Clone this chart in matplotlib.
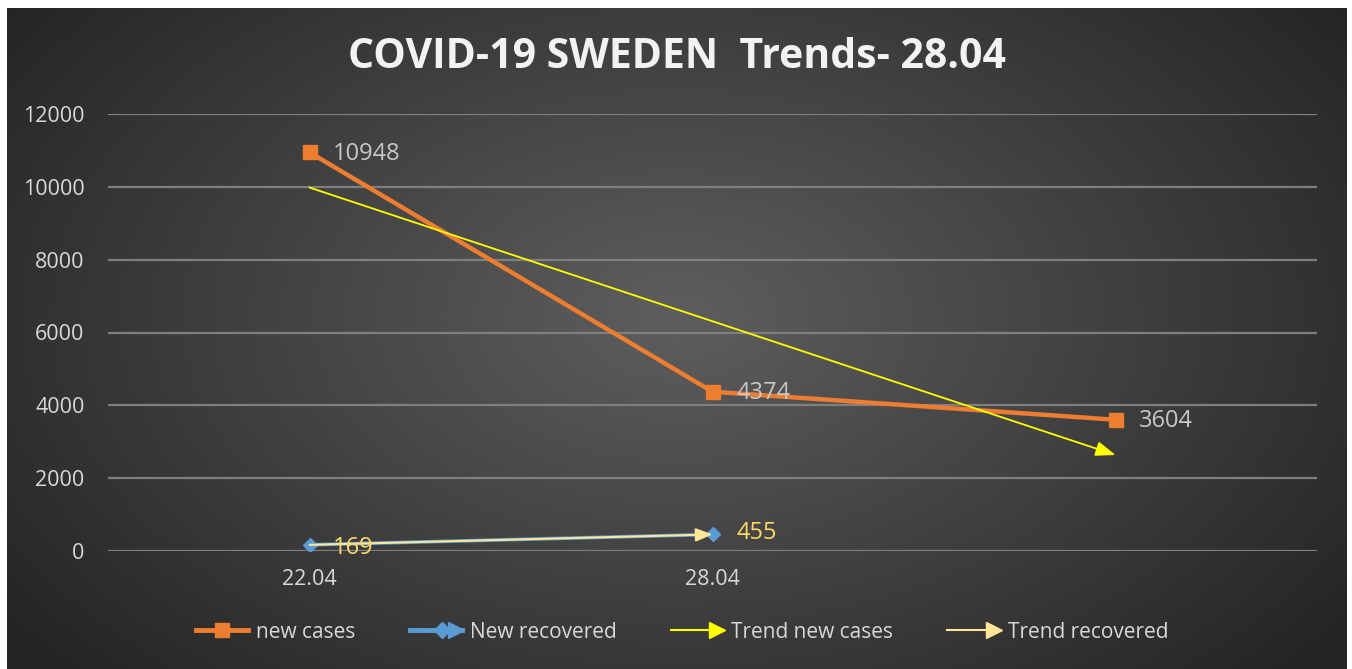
import numpy as np
import matplotlib
matplotlib.use("Agg")
import matplotlib.pyplot as plt
from matplotlib.lines import Line2D
from matplotlib.legend_handler import HandlerBase
from matplotlib.colors import to_rgb

plt.rcParams['font.family'] = ['Open Sans', 'DejaVu Sans']

# ---- data ----
categories = ["22.04", "28.04", ""]
new_cases = [10948, 4374, 3604]
new_recovered = [169, 455]
title = "COVID-19 SWEDEN  Trends- 28.04"
series_names = ["new cases", "New recovered", "Trend new cases", "Trend recovered"]
y_ticks = [0, 2000, 4000, 6000, 8000, 10000, 12000]

C_ORANGE = "#ED7D31"
C_BLUE = "#5B9BD5"
C_YEL = "#FFFF00"
C_LYEL = "#FFE699"
C_LBL_Y = "#FFD966"
C_TXT = "#D9D9D9"

W, H = 1352, 669
fig = plt.figure(figsize=(W / 100, H / 100), dpi=100, facecolor="white")

# background radial gradient
bx0, bx1, by0, by1 = 7, 1347, 8, 669
bg = fig.add_axes([bx0 / W, 1 - by1 / H, (bx1 - bx0) / W, (by1 - by0) / H], zorder=-10)
nx, ny = 400, 200
xx, yy = np.meshgrid(np.linspace(-1, 1, nx), np.linspace(-1, 1, ny))
r = np.sqrt((xx * 0.95) ** 2 + (yy * 0.75 + 0.05) ** 2)
r = np.clip(r / 1.2, 0, 1)
c0 = np.array(to_rgb("#5e5e5e"))
c1 = np.array(to_rgb("#242424"))
img = c0[None, None, :] * (1 - r[..., None]) + c1[None, None, :] * r[..., None]
bg.imshow(img, aspect="auto", extent=[0, 1, 0, 1], interpolation="bilinear")
bg.set_axis_off()

# main axes
ax_l, ax_r = 108, 1317
ax_t, ax_b = 114, 551
ax = fig.add_axes([ax_l / W, 1 - ax_b / H, (ax_r - ax_l) / W, (ax_b - ax_t) / H])
ax.patch.set_alpha(0)
for s in ax.spines.values():
    s.set_visible(False)

x = np.arange(len(categories))
ax.set_xlim(-0.5, len(categories) - 0.5)
ax.set_ylim(0, 12000)
ax.set_yticks(y_ticks)
ax.set_yticklabels([str(v) for v in y_ticks])
ax.set_xticks(x)
ax.set_xticklabels(categories)
ax.tick_params(axis="both", length=0, colors=C_TXT, labelsize=15.5)
ax.tick_params(axis="y", pad=17)
ax.tick_params(axis="x", pad=13)
ax.grid(axis="y", color="#7f7f7f", lw=1.6)
ax.set_axisbelow(True)

# series
ax.plot(x, new_cases, color=C_ORANGE, lw=3.2, marker="s", ms=10, zorder=3)
xr = np.arange(len(new_recovered))
ax.plot(xr, new_recovered, color=C_BLUE, lw=2.6, marker="D", ms=7, zorder=3)

# trend lines (linear fits)
p1 = np.polyfit(x, new_cases, 1)
t1 = np.polyval(p1, x)
ax.annotate("", xy=(x[-1], t1[-1]), xytext=(x[0], t1[0]),
            arrowprops=dict(arrowstyle="-|>,head_length=1.2,head_width=0.45",
                            color=C_YEL, lw=1.3, shrinkA=0, shrinkB=0), zorder=4)
p2 = np.polyfit(xr, new_recovered, 1)
t2 = np.polyval(p2, xr)
ax.annotate("", xy=(xr[-1], t2[-1]), xytext=(xr[0], t2[0]),
            arrowprops=dict(arrowstyle="-|>,head_length=1.0,head_width=0.4",
                            color=C_LYEL, lw=1.5, shrinkA=0, shrinkB=0), zorder=4)

# data labels
for xi, v in zip(x, new_cases):
    ax.annotate(str(v), (xi, v), xytext=(17, -1), textcoords="offset points",
                ha="left", va="center", color="#C8C8C8", fontsize=17, zorder=5)
for xi, v in zip(xr, new_recovered):
    ax.annotate(str(v), (xi, v), xytext=(17, -2 if xi == 0 else 1), textcoords="offset points",
                ha="left", va="center", color=C_LBL_Y, fontsize=17, zorder=5)

# title
fig.text(677 / W, 1 - 57 / H, title, ha="center", va="center", color="#F2F2F2",
         fontsize=29.5, fontweight="bold")


# legend
class ArrowHandler(HandlerBase):
    def __init__(self, color, lw, marker=None, mcolor=None, ms=0, arrow=True):
        super().__init__()
        self.color, self.lw, self.marker, self.mcolor, self.ms, self.arrow = color, lw, marker, mcolor, ms, arrow

    def create_artists(self, legend, orig_handle, xdescent, ydescent, width, height, fontsize, trans):
        y = height / 2 - ydescent
        arts = [Line2D([-xdescent, width - xdescent], [y, y], color=self.color, lw=self.lw, transform=trans)]
        if self.marker:
            mx = (width - xdescent) * (0.62 if self.arrow else 0.5)
            arts.append(Line2D([mx], [y], marker=self.marker, color=self.mcolor, ms=self.ms,
                               lw=0, transform=trans))
        if self.arrow:
            arts.append(Line2D([width - xdescent - 4], [y], marker=">", color=self.color,
                               ms=11, lw=0, transform=trans))
        return arts


handles = [Line2D([], []) for _ in range(4)]
hmap = {
    handles[0]: ArrowHandler(C_ORANGE, 3.5, "s", C_ORANGE, 10, arrow=False),
    handles[1]: ArrowHandler(C_BLUE, 3.5, "D", C_BLUE, 8, arrow=True),
    handles[2]: ArrowHandler(C_YEL, 1.5, None, None, 0, arrow=True),
    handles[3]: ArrowHandler(C_LYEL, 1.5, None, None, 0, arrow=True),
}
leg = fig.legend(handles, series_names, handler_map=hmap, loc="center",
                 bbox_to_anchor=(682 / W, 1 - 632 / H), ncol=4, frameon=False,
                 fontsize=15, labelcolor=C_TXT, handlelength=2.5, handletextpad=0.4,
                 columnspacing=2.6)

fig.savefig("out.png", dpi=100, facecolor="white")
